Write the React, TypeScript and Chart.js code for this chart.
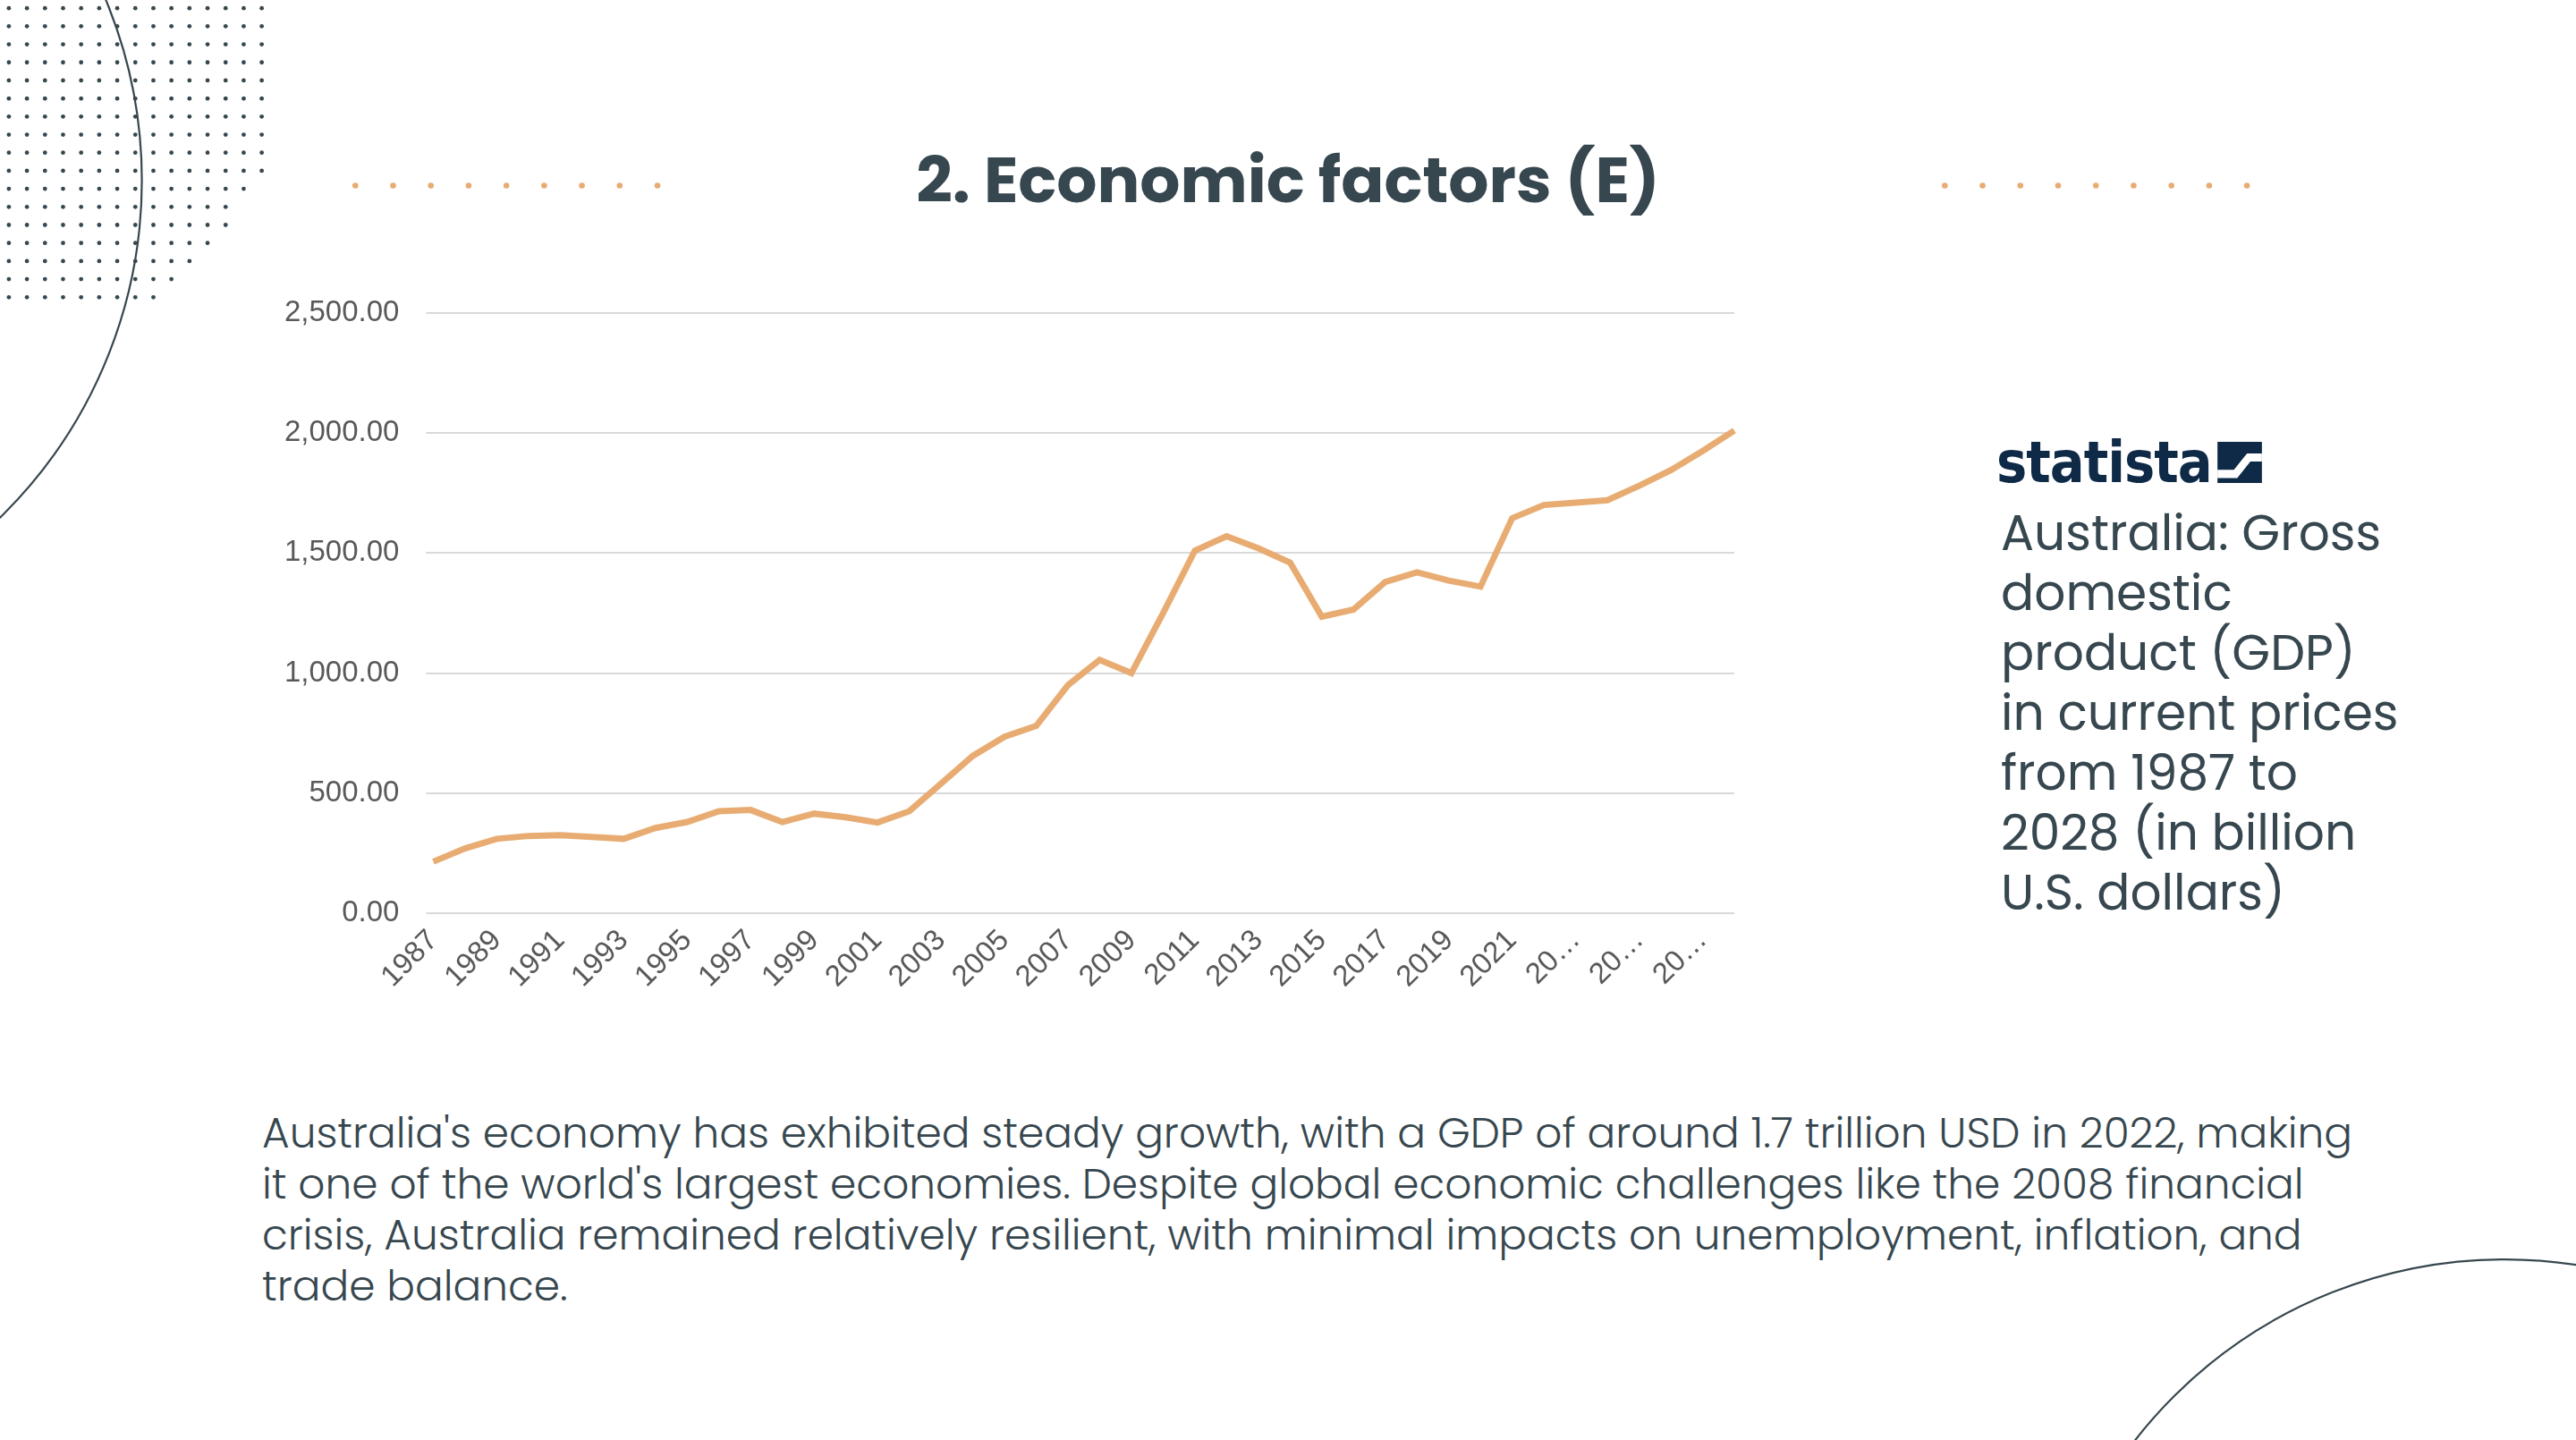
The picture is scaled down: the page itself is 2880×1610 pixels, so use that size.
import React, { useEffect, useRef } from 'react';
import Chart from 'chart.js/auto';

const years: string[] = [];
for (let y = 1987; y <= 2028; y++) years.push(String(y));

const gdp = [
  215, 270, 310, 322, 325, 318, 310, 355, 380, 425, 430, 380, 415, 400, 378, 425,
  540, 655, 735, 780, 950, 1055, 1000, 1250, 1510, 1570, 1520, 1460, 1235, 1265,
  1380, 1420, 1385, 1360, 1645, 1700, 1710, 1720, 1780, 1845, 1925, 2010,
];

const yTicks = [0, 500, 1000, 1500, 2000, 2500];

function GdpChart() {
  const chartRef = useRef<HTMLCanvasElement>(null);
  const chartInstance = useRef<Chart | null>(null);

  useEffect(() => {
    if (!chartRef.current) return;
    if (chartInstance.current) chartInstance.current.destroy();
    const ctx = chartRef.current.getContext('2d');
    if (!ctx) return;

    chartInstance.current = new Chart(ctx, {
      type: 'line',
      data: {
        labels: years,
        datasets: [
          {
            data: gdp,
            borderColor: '#e8ac72',
            borderWidth: 7,
            pointRadius: 0,
            tension: 0,
            fill: false,
          },
        ],
      },
      options: {
        animation: false,
        responsive: true,
        maintainAspectRatio: false,
        layout: { padding: { right: 10, top: 10 } },
        plugins: { legend: { display: false }, tooltip: { enabled: false } },
        scales: {
          x: {
            grid: { display: false },
            border: { display: false },
            ticks: {
              autoSkip: false,
              maxRotation: 45,
              minRotation: 45,
              color: '#595959',
              font: { family: 'Liberation Sans, Arial', size: 33 },
              callback: function (_v, i) {
                if (i % 2 !== 0) return '';
                const y = years[i];
                return Number(y) > 2022 ? '20…' : y;
              },
            },
          },
          y: {
            min: 0,
            max: 2500,
            afterBuildTicks: (axis) => {
              axis.ticks = yTicks.map((v) => ({ value: v }));
            },
            grid: { color: '#d9d9d9', lineWidth: 2 },
            border: { display: false },
            ticks: {
              color: '#595959',
              padding: 30,
              font: { family: 'Liberation Sans, Arial', size: 33 },
              callback: (v) =>
                Number(v).toLocaleString('en-US', { minimumFractionDigits: 2, maximumFractionDigits: 2 }),
            },
          },
        },
      },
    });

    return () => {
      if (chartInstance.current) chartInstance.current.destroy();
    };
  }, []);

  return <canvas ref={chartRef}></canvas>;
}

function Decorations() {
  const dots: JSX.Element[] = [];
  for (let r = 0; r < 17; r++) {
    const y = 5 + r * 11;
    const maxX = r < 10 ? 165 : 165 - (r - 9) * 9;
    for (let x = 5; x <= maxX; x += 11) {
      dots.push(<circle key={`${r}-${x}`} cx={x} cy={y} r={1.3} fill="#37474f" />);
    }
  }
  const orange: JSX.Element[] = [];
  for (let i = 0; i < 9; i++) {
    orange.push(<circle key={'a' + i} cx={216 + i * 23} cy={113} r={1.8} fill="#e8ac72" />);
    orange.push(<circle key={'b' + i} cx={1184 + i * 23} cy={113} r={1.8} fill="#e8ac72" />);
  }
  return (
    <svg
      viewBox="0 0 1568 877"
      width={2880}
      height={1610}
      style={{ position: 'absolute', left: 0, top: 0 }}
    >
      {dots}
      {orange}
      <circle cx={-201} cy={110} r={287} fill="none" stroke="#37474f" strokeWidth={1.2} />
      <circle cx={1525} cy={1052} r={285} fill="none" stroke="#37474f" strokeWidth={1.2} />
    </svg>
  );
}

export default function App() {
  const font = 'Poppins, "Open Sans", Lato, sans-serif';
  return (
    <div
      style={{
        position: 'absolute',
        left: 0,
        top: 0,
        width: 2880,
        height: 1610,
        overflow: 'hidden',
        background: '#fff',
        fontFamily: font,
        color: '#37474f',
      }}
    >
      <Decorations />
      <div
        style={{
          position: 'absolute',
          left: 0,
          width: 2880,
          top: 148,
          textAlign: 'center',
          fontSize: 71,
          fontWeight: 700,
          color: '#37474f',
        }}
      >
        2. Economic factors (E)
      </div>
      <div style={{ position: 'absolute', left: 288, top: 300, width: 1682, height: 815 }}>
        <GdpChart />
      </div>
      <div
        style={{
          position: 'absolute',
          left: 2232,
          top: 480,
          display: 'flex',
          alignItems: 'center',
          gap: 6,
          fontFamily: '"Liberation Sans Narrow", "DejaVu Sans Condensed", sans-serif',
          fontWeight: 700,
          fontSize: 64,
          color: '#0f2a47',
          letterSpacing: -1,
        }}
      >
        statista
        <svg width={50} height={46} viewBox="0 0 54 50">
          <rect width={54} height={50} fill="#0f2a47" />
          <path d="M0 34 L20 34 L36 14 L54 14 L54 24 L40 24 L24 44 L0 44 Z" fill="#fff" />
        </svg>
      </div>
      <div
        style={{
          position: 'absolute',
          left: 2237,
          top: 562,
          width: 450,
          fontSize: 55,
          lineHeight: '67px',
          color: '#37474f',
        }}
      >
        Australia: Gross domestic product (GDP) in current prices from 1987 to 2028 (in billion U.S.
        dollars)
      </div>
      <div
        style={{
          position: 'absolute',
          left: 293,
          top: 1238,
          width: 2370,
          fontSize: 47,
          lineHeight: '57px',
          color: '#37474f',
          fontWeight: 300,
        }}
      >
        Australia's economy has exhibited steady growth, with a GDP of around 1.7 trillion USD in 2022,
        making it one of the world's largest economies. Despite global economic challenges like the 2008
        financial crisis, Australia remained relatively resilient, with minimal impacts on unemployment,
        inflation, and trade balance.
      </div>
    </div>
  );
}
